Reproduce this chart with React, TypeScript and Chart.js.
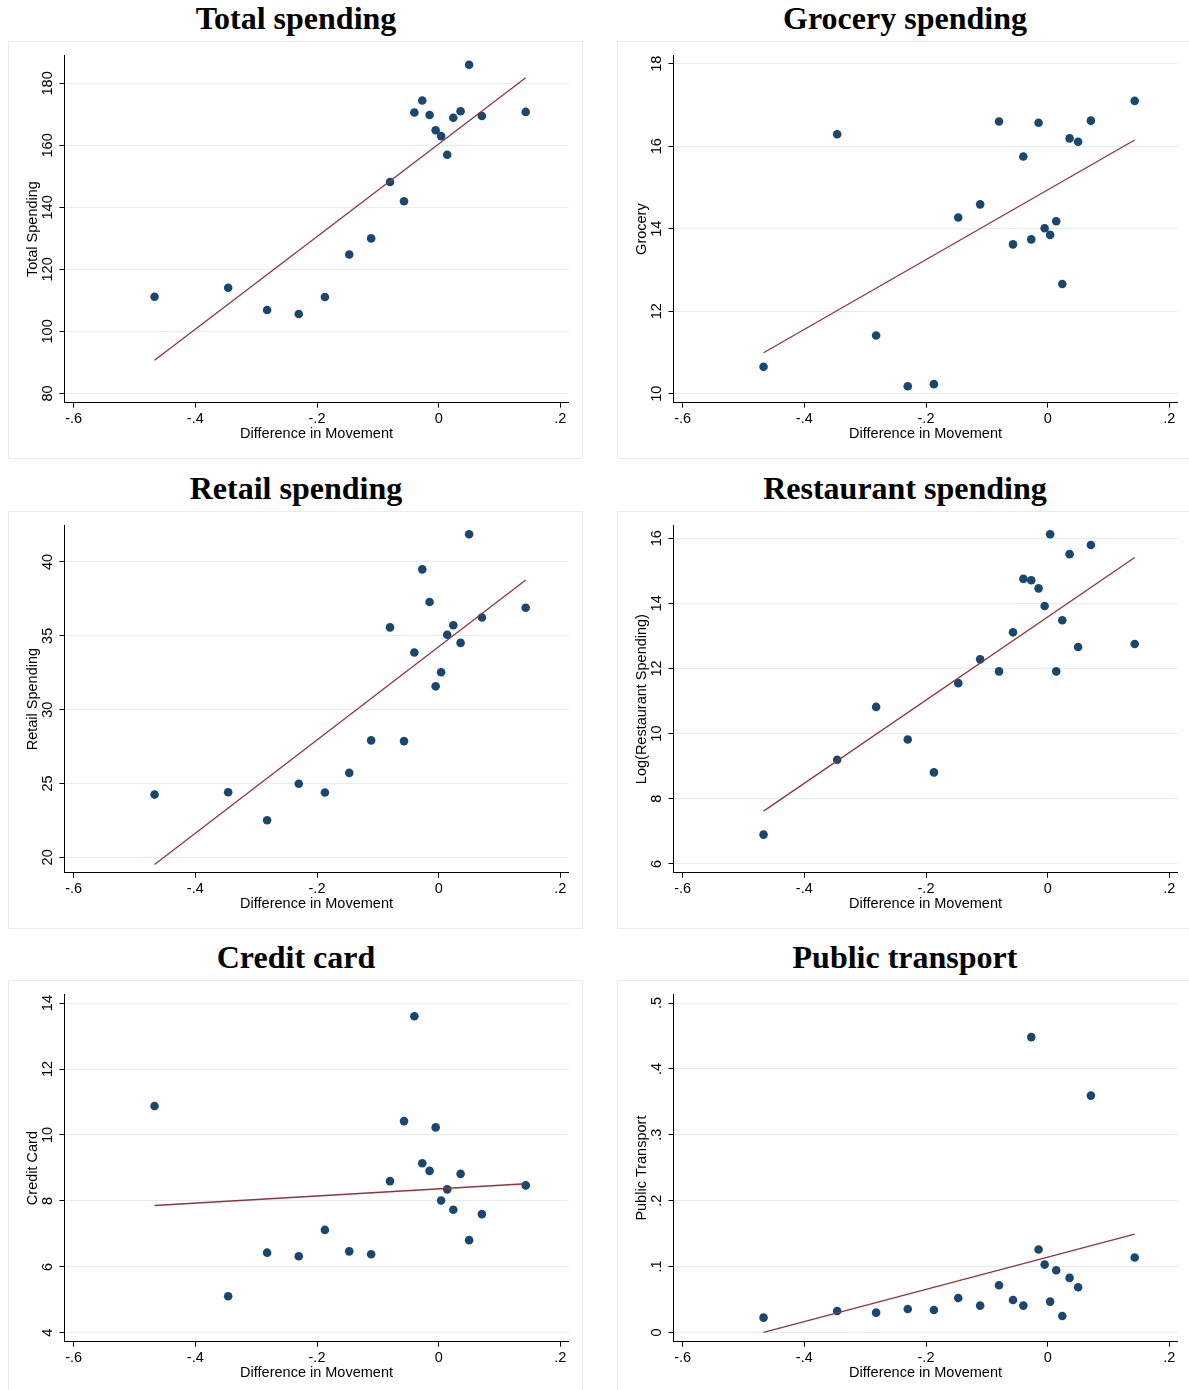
import React, { useEffect, useRef } from "react";
import { Chart, registerables } from "chart.js";

Chart.register(...registerables);

// ---- Data (shared x: difference in movement) ----
const movement = [
  -0.467, -0.346, -0.282, -0.23, -0.187, -0.147, -0.111, -0.08, -0.057, -0.04,
  -0.027, -0.015, -0.005, 0.004, 0.014, 0.024, 0.036, 0.05, 0.071, 0.143,
];

const totalSpending = [
  111.2, 114.1, 106.9, 105.6, 111.1, 124.8, 130.0, 148.2, 142.0, 170.6,
  174.5, 169.8, 164.9, 163.0, 157.0, 168.9, 171.0, 186.0, 169.5, 170.8,
];
const grocery = [
  10.65, 16.29, 11.41, 10.18, 10.23, 14.27, 14.59, 16.6, 13.62, 15.75,
  13.74, 16.57, 14.01, 13.85, 14.18, 12.66, 16.19, 16.11, 16.62, 17.1,
];
const retail = [
  24.25, 24.41, 22.51, 24.98, 24.39, 25.72, 27.92, 35.57, 27.87, 33.87,
  39.5, 37.29, 31.58, 32.53, 35.07, 35.72, 34.52, 41.88, 36.24, 36.9,
];
const restaurant = [
  6.9, 9.2, 10.82, 9.82, 8.81, 11.55, 12.28, 11.91, 13.11, 14.75,
  14.71, 14.46, 13.92, 16.12, 11.91, 13.48, 15.51, 12.66, 15.79, 12.75,
];
const creditCard = [
  10.88, 5.11, 6.43, 6.32, 7.12, 6.47, 6.38, 8.6, 10.42, 13.6,
  9.14, 8.91, 10.23, 8.01, 8.35, 7.73, 8.82, 6.81, 7.6, 8.47,
];
const publicTransport = [
  0.0223, 0.0325, 0.0299, 0.0355, 0.034, 0.0522, 0.0406, 0.0715, 0.0492, 0.0406,
  0.4483, 0.1258, 0.1029, 0.0467, 0.0943, 0.0248, 0.0827, 0.0685, 0.3595, 0.1136,
];

// Fitted-line values at the smallest and largest movement
const fitTotal = [90.7, 181.8];
const fitGrocery = [10.99, 16.15];
const fitRetail = [19.52, 38.78];
const fitRestaurant = [7.62, 15.41];
const fitCredit = [7.86, 8.52];
const fitTransport = [0.0, 0.149];

// Ticks
const xTicks = [-0.6, -0.4, -0.2, 0, 0.2];
const xTickLabels = ["-.6", "-.4", "-.2", "0", ".2"];
const totalTicks = [80, 100, 120, 140, 160, 180];
const totalTickLabels = ["80", "100", "120", "140", "160", "180"];
const groceryTicks = [10, 12, 14, 16, 18];
const groceryTickLabels = ["10", "12", "14", "16", "18"];
const retailTicks = [20, 25, 30, 35, 40];
const retailTickLabels = ["20", "25", "30", "35", "40"];
const restaurantTicks = [6, 8, 10, 12, 14, 16];
const restaurantTickLabels = ["6", "8", "10", "12", "14", "16"];
const creditTicks = [4, 6, 8, 10, 12, 14];
const creditTickLabels = ["4", "6", "8", "10", "12", "14"];
const transportTicks = [0, 0.1, 0.2, 0.3, 0.4, 0.5];
const transportTickLabels = ["0", ".1", ".2", ".3", ".4", ".5"];

// Axis ranges
const xRange = [-0.615, 0.2135];
const totalRange = [77, 189];
const groceryRange = [9.78, 18.2];
const retailRange = [18.96, 42.47];
const restaurantRange = [5.73, 16.39];
const creditRange = [3.73, 14.26];
const transportRange = [-0.0142, 0.513];

const panels = [
  { title: "Total spending", yTitle: "Total Spending", ys: totalSpending, fit: fitTotal, ticks: totalTicks, labels: totalTickLabels, range: totalRange },
  { title: "Grocery spending", yTitle: "Grocery", ys: grocery, fit: fitGrocery, ticks: groceryTicks, labels: groceryTickLabels, range: groceryRange },
  { title: "Retail spending", yTitle: "Retail Spending", ys: retail, fit: fitRetail, ticks: retailTicks, labels: retailTickLabels, range: retailRange },
  { title: "Restaurant spending", yTitle: "Log(Restaurant Spending)", ys: restaurant, fit: fitRestaurant, ticks: restaurantTicks, labels: restaurantTickLabels, range: restaurantRange },
  { title: "Credit card", yTitle: "Credit Card", ys: creditCard, fit: fitCredit, ticks: creditTicks, labels: creditTickLabels, range: creditRange },
  { title: "Public transport", yTitle: "Public Transport", ys: publicTransport, fit: fitTransport, ticks: transportTicks, labels: transportTickLabels, range: transportRange },
];

const SANS = '"Liberation Sans", Arial, Helvetica, sans-serif';
const TICK_SIZE = 14.5;
const TITLE_SIZE = 14.5;
const CANVAS_W = 575;
const CANVAS_H = 418;
const COL_W = 608.5;
const ROW_H = 469.5;

function labelFor(values: number[], labels: string[], v: number) {
  const i = values.findIndex((t) => Math.abs(t - v) < 1e-9);
  return i >= 0 ? labels[i] : "";
}

function Panel({ p, col, row }: { p: any; col: number; row: number }) {
  const ref = useRef<HTMLCanvasElement | null>(null);

  useEffect(() => {
    const canvas = ref.current;
    if (!canvas) return;
    const mctx = document.createElement("canvas").getContext("2d")!;
    mctx.font = `${TICK_SIZE}px ${SANS}`;
    const widest = Math.max(...p.labels.map((l: string) => mctx.measureText(l).width));
    const yLabelPad = 11.5 - widest / 2;

    const n = movement.length;
    const chart = new Chart(canvas, {
      type: "scatter",
      data: {
        datasets: [
          {
            data: [
              { x: movement[0], y: p.fit[0] },
              { x: movement[n - 1], y: p.fit[1] },
            ],
            showLine: true,
            borderColor: "#90353b",
            borderWidth: 1.3,
            pointRadius: 0,
            order: 0,
          },
          {
            data: movement.map((x, i) => ({ x, y: p.ys[i] })),
            backgroundColor: "#1a476f",
            borderWidth: 0,
            pointRadius: 4.3,
            order: 1,
          },
        ],
      },
      options: {
        animation: false,
        responsive: false,
        devicePixelRatio: 1,
        layout: { padding: { top: 14.5, right: 14.4, left: 0, bottom: 0 } },
        plugins: {
          legend: { display: false },
          tooltip: { enabled: false },
          title: { display: false },
        },
        scales: {
          x: {
            type: "linear",
            position: "bottom",
            min: xRange[0],
            max: xRange[1],
            afterBuildTicks: (s: any) => {
              s.ticks = xTicks.map((v) => ({ value: v }));
            },
            afterFit: (s: any) => {
              s.height = 56.3;
            },
            ticks: {
              callback: (v: any) => labelFor(xTicks, xTickLabels, Number(v)),
              font: { family: SANS, size: TICK_SIZE },
              color: "#000",
              padding: 3,
              minRotation: 0,
              maxRotation: 0,
              autoSkip: false,
            },
            grid: {
              drawOnChartArea: false,
              drawTicks: true,
              tickLength: 5,
              tickColor: "#000",
              tickWidth: 1,
            },
            border: { display: true, color: "#000", width: 1 },
            title: {
              display: true,
              text: "Difference in Movement",
              font: { family: SANS, size: TITLE_SIZE },
              color: "#000",
              padding: { top: 0, bottom: 16.3 },
            },
          },
          y: {
            type: "linear",
            position: "left",
            min: p.range[0],
            max: p.range[1],
            afterBuildTicks: (s: any) => {
              s.ticks = p.ticks.map((v: number) => ({ value: v }));
            },
            afterFit: (s: any) => {
              s.width = 56.5;
            },
            ticks: {
              callback: (v: any) => labelFor(p.ticks, p.labels, Number(v)),
              font: { family: SANS, size: TICK_SIZE },
              color: "#000",
              padding: yLabelPad,
              minRotation: 90,
              maxRotation: 90,
              crossAlign: "center",
              autoSkip: false,
            },
            grid: {
              drawOnChartArea: true,
              color: "#e4ecee",
              lineWidth: 1,
              drawTicks: true,
              tickLength: 5,
              tickColor: "#000",
              tickWidth: 1,
            },
            border: { display: true, color: "#000", width: 1 },
            title: {
              display: true,
              text: p.yTitle,
              font: { family: SANS, size: TITLE_SIZE },
              color: "#000",
              padding: { top: 25 - (TITLE_SIZE * 1.2) / 2, bottom: 0 },
            },
          },
        },
      } as any,
    });
    return () => chart.destroy();
  }, [p]);

  const left = Math.round(col * COL_W);
  const top = Math.round(row * ROW_H);

  return (
    <>
      <div
        style={{
          position: "absolute",
          left: left,
          top: top,
          width: 592,
          height: 36,
          lineHeight: "36px",
          textAlign: "center",
          fontFamily: '"Liberation Serif", "Times New Roman", serif',
          fontWeight: "bold",
          fontSize: 32,
          color: "#000",
          whiteSpace: "nowrap",
        }}
      >
        {p.title}
      </div>
      <div
        style={{
          position: "absolute",
          left: left + 8,
          top: top + 41,
          width: CANVAS_W,
          height: CANVAS_H,
          boxSizing: "border-box",
          border: "1px solid #e6edf0",
        }}
      />
      <canvas
        ref={ref}
        width={CANVAS_W}
        height={CANVAS_H}
        style={{
          position: "absolute",
          left: left + 8,
          top: top + 41,
          width: CANVAS_W,
          height: CANVAS_H,
        }}
      />
    </>
  );
}

export default function App() {
  return (
    <div
      style={{
        position: "absolute",
        left: 0,
        top: 0,
        width: 1189,
        height: 1390,
        overflow: "hidden",
        background: "#fff",
      }}
    >
      {panels.map((p, i) => (
        <Panel key={i} p={p} col={i % 2} row={Math.floor(i / 2)} />
      ))}
    </div>
  );
}
